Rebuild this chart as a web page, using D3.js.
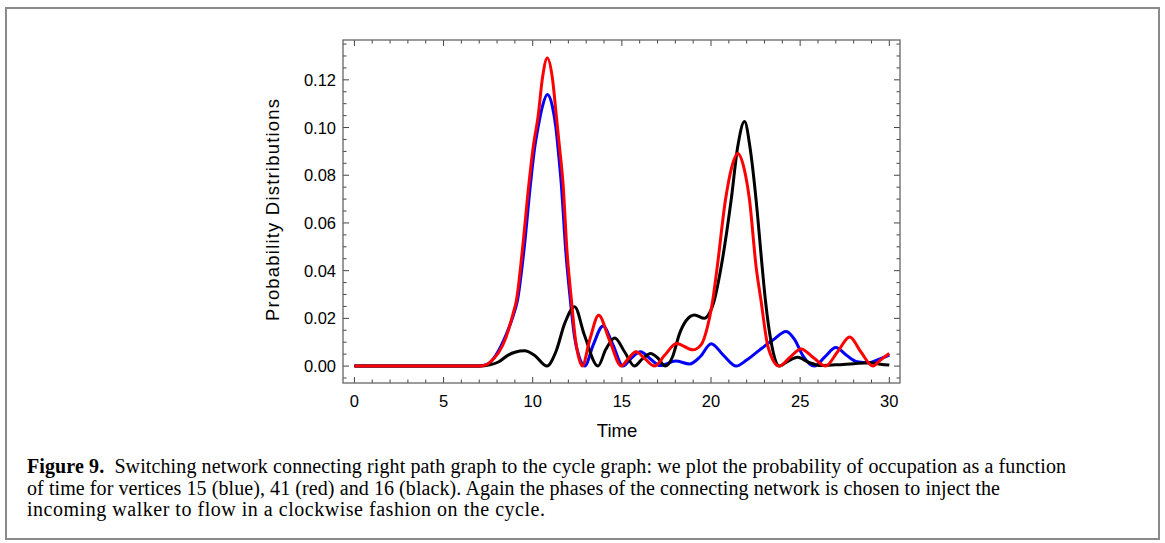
<!DOCTYPE html>
<html>
<head>
<meta charset="utf-8">
<script src="https://cdn.jsdelivr.net/npm/d3@7"></script>
<style>
  body { margin: 0; background: #fff; }
  svg { display: block; }
</style>
</head>
<body>
<svg id="fig" width="1165" height="543"></svg>
<script>
// vertex 15 (blue)
const blueT = [0, 7.0, 7.5, 7.9, 8.5, 8.9, 9.15, 9.51, 9.88, 10.1, 10.3, 10.55, 10.82, 11.1, 11.3, 11.45, 11.6, 11.85, 12.11, 12.35, 12.6, 12.92, 13.4, 13.94, 14.5, 15.06, 15.55, 16.05, 16.6, 17.15, 18.02, 18.8, 19.4, 20.01, 20.7, 21.41, 22.0, 22.72, 23.47, 24.21, 24.7, 25.14, 25.8, 26.4, 27.0, 27.6, 28.2, 28.85, 29.4, 30.0];
const blueP = [0, 0, 0.0009, 0.0042, 0.013, 0.021, 0.0277, 0.0486, 0.0766, 0.091, 0.1, 0.109, 0.1138, 0.109, 0.1, 0.089, 0.0766, 0.0486, 0.0277, 0.012, 0.004, 0, 0.009, 0.0168, 0.009, 0, 0.0035, 0.006, 0.003, 0.0002, 0.0021, 0.0009, 0.004, 0.0094, 0.0045, 0, 0.0025, 0.0067, 0.0109, 0.0145, 0.011, 0.0045, 0, 0.004, 0.0078, 0.0045, 0.0018, 0.0014, 0.0028, 0.0046];

// vertex 41 (red)
const redT = [0, 7.0, 7.4, 7.87, 8.1, 8.5, 8.9, 9.09, 9.42, 9.79, 10.05, 10.3, 10.55, 10.82, 11.1, 11.33, 11.5, 11.7, 11.92, 12.17, 12.4, 12.6, 12.78, 13.2, 13.7, 14.3, 14.97, 15.35, 15.8, 16.3, 16.83, 17.4, 18.06, 18.98, 19.45, 19.75, 20.1, 20.35, 20.81, 21.15, 21.5, 21.85, 22.16, 22.53, 22.8, 23.2, 23.82, 24.4, 25.05, 25.75, 26.43, 27.1, 27.78, 28.4, 29.08, 29.5, 30.0];
const redP = [0, 0, 0.0006, 0.0036, 0.0058, 0.012, 0.022, 0.0277, 0.0486, 0.0766, 0.093, 0.1045, 0.121, 0.1292, 0.121, 0.1045, 0.092, 0.0766, 0.0486, 0.0277, 0.011, 0.003, 0, 0.011, 0.0213, 0.011, 0, 0.003, 0.006, 0.003, 0, 0.0045, 0.0095, 0.0068, 0.009, 0.015, 0.0277, 0.0416, 0.0696, 0.083, 0.0891, 0.083, 0.0696, 0.0416, 0.0277, 0.008, 0, 0.0035, 0.0072, 0.0035, 0, 0.006, 0.0122, 0.006, 0, 0.0025, 0.0053];

// vertex 16 (black)
const blackT = [0, 7.0, 7.6, 8.1, 8.6, 9.0, 9.55, 10.1, 10.8, 11.3, 11.8, 12.35, 12.9, 13.66, 14.1, 14.6, 15.15, 15.71, 16.15, 16.62, 17.0, 17.45, 17.85, 18.24, 18.6, 19.08, 19.62, 19.9, 20.2, 20.57, 21.13, 21.5, 21.88, 22.2, 22.53, 22.87, 23.05, 23.4, 23.84, 24.3, 24.86, 25.5, 26.17, 27.0, 28.0, 28.9, 29.5, 30.0];
const blackP = [0, 0, 0.0005, 0.0018, 0.0045, 0.0058, 0.0064, 0.0045, 0, 0.006, 0.018, 0.0249, 0.013, 0, 0.007, 0.0118, 0.006, 0, 0.003, 0.0053, 0.0035, 0, 0.004, 0.0137, 0.019, 0.0214, 0.02, 0.022, 0.028, 0.0416, 0.0696, 0.092, 0.1025, 0.091, 0.0696, 0.0416, 0.0277, 0.009, 0, 0.002, 0.0037, 0.0015, 0.0002, 0.0005, 0.001, 0.0014, 0.0008, 0.0004];

const xTicks = [0, 5, 10, 15, 20, 25, 30];
const yTicks = [0, 0.02, 0.04, 0.06, 0.08, 0.10, 0.12];
const xTitle = "Time";
const yTitle = "Probability Distributions";

const captionLines = [
  ["Figure 9.", "\u2002Switching network connecting right path graph to the cycle graph: we plot the probability of occupation as a function"],
  ["", "of time for vertices 15 (blue), 41 (red) and 16 (black). Again the phases of the connecting network is chosen to inject the"],
  ["", "incoming walker to flow in a clockwise fashion on the cycle."]
];
const captionWidths = [1039, 973, 518];

const svg = d3.select("#fig");

// outer figure box
svg.append("rect")
  .attr("x", 6).attr("y", 8)
  .attr("width", 1153).attr("height", 531)
  .attr("fill", "none")
  .attr("stroke", "#8a8a8a")
  .attr("stroke-width", 2);

const frame = { left: 343, right: 900, top: 40, bottom: 383 };

const x = d3.scaleLinear().domain([-0.64, 30.6]).range([frame.left, frame.right]);
const y = d3.scaleLinear().domain([-0.0071, 0.1367]).range([frame.bottom, frame.top]);

const g = svg.append("g");

// clip so curves stay in the frame
svg.append("clipPath").attr("id", "clip")
  .append("rect")
  .attr("x", frame.left).attr("y", frame.top)
  .attr("width", frame.right - frame.left).attr("height", frame.bottom - frame.top);

const line = d3.line()
  .x(d => x(d[0]))
  .y(d => y(d[1]))
  .curve(d3.curveMonotoneX);

const series = [
  { t: blueT, p: blueP, color: "#0000ff" },
  { t: blackT, p: blackP, color: "#000000" },
  { t: redT, p: redP, color: "#ff0000" }
];

series.forEach(s => {
  g.append("path")
    .datum(d3.zip(s.t, s.p))
    .attr("clip-path", "url(#clip)")
    .attr("fill", "none")
    .attr("stroke", s.color)
    .attr("stroke-width", 3)
    .attr("stroke-linejoin", "round")
    .attr("d", line);
});

// frame ticks (inward, all four sides)
const tickCol = "#444";
const xMinor = d3.range(0, 31, 1).filter(v => v % 5 !== 0);
const yMinor = d3.range(-0.005, 0.1351, 0.005).filter(v => Math.abs(Math.round(v * 1000) % 20) > 0.5);

function xTickMarks(vals, len) {
  vals.forEach(v => {
    g.append("line").attr("x1", x(v)).attr("x2", x(v))
      .attr("y1", frame.bottom).attr("y2", frame.bottom - len)
      .attr("stroke", tickCol).attr("stroke-width", 1);
    g.append("line").attr("x1", x(v)).attr("x2", x(v))
      .attr("y1", frame.top).attr("y2", frame.top + len)
      .attr("stroke", tickCol).attr("stroke-width", 1);
  });
}
function yTickMarks(vals, len) {
  vals.forEach(v => {
    g.append("line").attr("y1", y(v)).attr("y2", y(v))
      .attr("x1", frame.left).attr("x2", frame.left + len)
      .attr("stroke", tickCol).attr("stroke-width", 1);
    g.append("line").attr("y1", y(v)).attr("y2", y(v))
      .attr("x1", frame.right).attr("x2", frame.right - len)
      .attr("stroke", tickCol).attr("stroke-width", 1);
  });
}
xTickMarks(xTicks, 6);
xTickMarks(xMinor, 3.5);
yTickMarks(yTicks, 6);
yTickMarks(yMinor, 3.5);

g.append("rect")
  .attr("x", frame.left).attr("y", frame.top)
  .attr("width", frame.right - frame.left).attr("height", frame.bottom - frame.top)
  .attr("fill", "none").attr("stroke", "#666").attr("stroke-width", 1.3);

// tick labels
const labFont = "'Liberation Sans', Arial, sans-serif";
g.selectAll(".xl").data(xTicks).enter().append("text")
  .attr("x", d => x(d)).attr("y", 407)
  .attr("text-anchor", "middle")
  .style("font-family", labFont).style("font-size", "16.5px")
  .text(d => d);

g.selectAll(".yl").data(yTicks).enter().append("text")
  .attr("x", 336).attr("y", d => y(d) + 6)
  .attr("text-anchor", "end")
  .style("font-family", labFont).style("font-size", "16.5px")
  .text(d => d.toFixed(2));

g.append("text")
  .attr("x", 617).attr("y", 437)
  .attr("text-anchor", "middle")
  .style("font-family", labFont).style("font-size", "18.5px")
  .text(xTitle);

g.append("text")
  .attr("transform", `translate(279, 210) rotate(-90)`)
  .attr("text-anchor", "middle")
  .attr("textLength", 222)
  .attr("lengthAdjust", "spacing")
  .style("font-family", labFont).style("font-size", "18.5px")
  .text(yTitle);

// caption
const cap = svg.append("g").style("font-family", "'Liberation Serif', 'Times New Roman', serif").style("font-size", "20px");
captionLines.forEach((ln, i) => {
  const t = cap.append("text").attr("x", 27).attr("y", 473 + i * 21.5)
    .attr("textLength", captionWidths[i]).attr("lengthAdjust", "spacing");
  if (ln[0]) t.append("tspan").style("font-weight", "bold").text(ln[0]);
  t.append("tspan").text(ln[1]);
});
</script>
</body>
</html>
